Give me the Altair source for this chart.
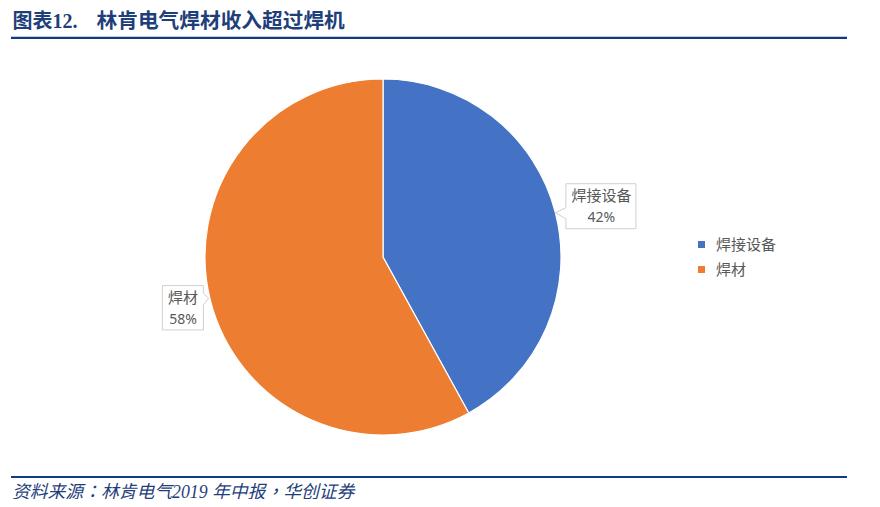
import altair as alt
import pandas as pd
import numpy as np

# ---------------- data ----------------
categories = ["焊接设备", "焊材"]
shares = [42, 58]
colors = ["#4472C4", "#ED7D31"]

title_parts = ["图表12.", "林肯电气焊材收入超过焊机"]
source_text = ["资料来源：林肯电气2019 年中报，华创证券"]

# ---------------- layout (styles) ----------------
W, H = 864, 491
CX, CY, R = 375, 249, 178
NAVY = "#1F3F7A"
LINE = "#0F3C7E"
GRAY = "#595959"
CJK = "Noto Sans CJK SC"

df = pd.DataFrame({"name": categories, "value": shares, "order": list(range(len(categories)))})
total = df["value"].sum()
cum = df["value"].cumsum() - df["value"] / 2
ang = cum / total * 2 * np.pi
df["ax"] = CX + R * np.sin(ang)
df["ay"] = CY - R * np.cos(ang)
df["side"] = np.where(np.sin(ang) > 0, "right", "left")
df["pct"] = (df["value"] / total * 100).round().astype(int).astype(str) + "%"
# text offsets relative to the leader tip
df["nx"] = df["ax"] + np.where(df["side"] == "right", 46, -27.5)
df["ny"] = df["ay"] + np.where(df["side"] == "right", -17, -3)
df["px"] = df["nx"]
df["py"] = df["ay"] + np.where(df["side"] == "right", 5, 18.7)

xs = alt.Scale(domain=[0, W], range=[0, W], nice=False, zero=False)
ys = alt.Scale(domain=[0, H], range=[0, H], nice=False, zero=False)

pie = alt.Chart(df).mark_arc(outerRadius=R, stroke="white", strokeWidth=1.2).encode(
    theta=alt.Theta("value:Q", stack=True),
    color=alt.Color(
        "name:N",
        scale=alt.Scale(domain=categories, range=colors),
        sort=categories,
        legend=alt.Legend(
            orient="none", legendX=686, legendY=229, title=None,
            symbolType="square", symbolSize=49, symbolStrokeWidth=0,
            labelFont=CJK, labelFontSize=15, labelColor=GRAY,
            labelOffset=7, rowPadding=9, padding=0,
        ),
    ),
    order=alt.Order("order:Q"),
    x=alt.value(CX),
    y=alt.value(CY),
)

path_right = "M0,0 L10.5,-5 L10.5,-29 L80.5,-29 L80.5,16 L10.5,16 L10.5,6 Z"
path_left = "M-2,-3 L-7.2,-8 L-7.2,-15.7 L-48.2,-15.7 L-48.2,28.7 L-7.2,28.7 L-7.2,3.7 Z"

base = alt.Chart(df)
box_r = base.transform_filter(alt.datum.side == "right").mark_point(
    shape=path_right, size=4, filled=True, fill="white", stroke="#D0D0D0", strokeWidth=1, opacity=1
).encode(x=alt.X("ax:Q", scale=xs, axis=None), y=alt.Y("ay:Q", scale=ys, axis=None))
box_l = base.transform_filter(alt.datum.side == "left").mark_point(
    shape=path_left, size=4, filled=True, fill="white", stroke="#D0D0D0", strokeWidth=1, opacity=1
).encode(x=alt.X("ax:Q", scale=xs, axis=None), y=alt.Y("ay:Q", scale=ys, axis=None))

lab_name = base.mark_text(font=CJK, fontSize=15, color=GRAY, baseline="middle", align="center").encode(
    x=alt.X("nx:Q", scale=xs, axis=None), y=alt.Y("ny:Q", scale=ys, axis=None), text="name:N"
)
lab_pct = base.mark_text(font="Noto Sans, " + CJK, fontSize=14, color=GRAY, baseline="middle", align="center").encode(
    x=alt.X("px:Q", scale=xs, axis=None), y=alt.Y("py:Q", scale=ys, axis=None), text="pct:N"
)

t1 = pd.DataFrame({"t": [title_parts[0]]})
t2 = pd.DataFrame({"t": [title_parts[1]]})
sdf = pd.DataFrame({"t": source_text})

title1 = alt.Chart(t1).mark_text(
    font="Liberation Serif, " + CJK, fontSize=20, fontWeight="bold", color=NAVY, align="left", baseline="middle"
).encode(x=alt.value(4.5), y=alt.value(13.7), text="t:N")
title2 = alt.Chart(t2).mark_text(
    font=CJK, fontSize=20.7, fontWeight="bold", color=NAVY, align="left", baseline="middle"
).encode(x=alt.value(88.5), y=alt.value(13.7), text="t:N")

source = alt.Chart(sdf).mark_text(
    font="Liberation Serif, Noto Sans CJK TC", fontSize=17.8, fontStyle="italic", color=NAVY,
    align="left", baseline="middle"
).encode(x=alt.value(4), y=alt.value(485), text="t:N")

line_top = alt.Chart(t1).mark_rule(color=LINE, strokeWidth=2.3).encode(
    x=alt.value(3), x2=alt.value(839), y=alt.value(29.8)
)
line_bot = alt.Chart(sdf).mark_rule(color=LINE, strokeWidth=2).encode(
    x=alt.value(3), x2=alt.value(839), y=alt.value(469)
)

chart = alt.layer(
    pie, box_r, box_l, lab_name, lab_pct, title1, title2, line_top, line_bot, source
).properties(
    width=W, height=H, autosize=alt.AutoSizeParams(type="none"), padding=0
).configure(background="white").configure_view(strokeWidth=0, stroke="transparent")

chart.save("out.html", embed_options={"renderer": "svg", "actions": False})
